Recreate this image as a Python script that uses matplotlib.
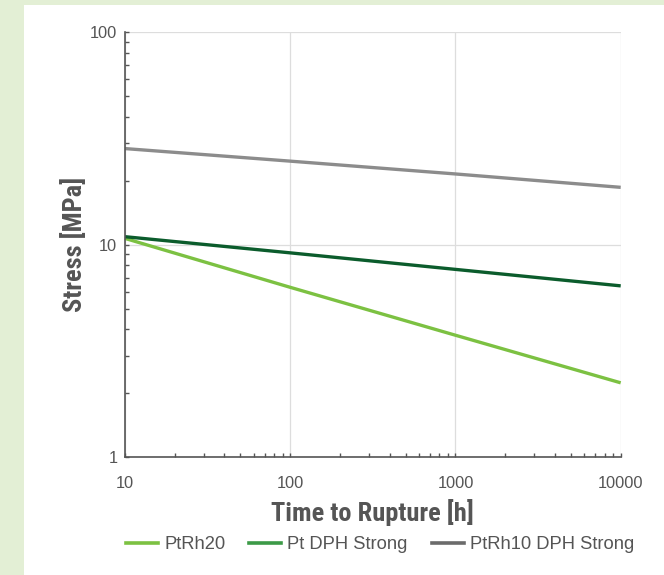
import matplotlib
matplotlib.use("Agg")
import matplotlib.pyplot as plt
from matplotlib import font_manager
from matplotlib.lines import Line2D
from matplotlib.patches import Rectangle
from matplotlib.ticker import LogLocator, NullFormatter, FixedLocator, FixedFormatter

# ---- data ----
time_h = [10, 100, 1000, 10000]
series_names = ["PtRh20", "Pt DPH Strong", "PtRh10 DPH Strong"]
ptrh20 = [10.7, 6.3, 3.75, 2.24]
pt_dph = [10.9, 9.15, 7.65, 6.4]
ptrh10_dph = [28.3, 24.7, 21.5, 18.6]
x_ticks = [10, 100, 1000, 10000]
x_tick_labels = ["10", "100", "1000", "10000"]
y_ticks = [1, 10, 100]
y_tick_labels = ["1", "10", "100"]

# ---- fonts ----
names = {f.name for f in font_manager.fontManager.ttflist}
reg_font = "Liberation Sans" if "Liberation Sans" in names else "DejaVu Sans"
bold_font = reg_font
for cand in ["Liberation Sans Narrow", "Roboto Condensed", "Open Sans Condensed", "Roboto"]:
    if cand in names:
        bold_font = cand
        break

TXT = "#555555"
line_colors = ["#7cc142", "#0b5c2c", "#8c8c8c"]
legend_colors = ["#7cc142", "#3c9a47", "#6b6b6b"]

fig = plt.figure(figsize=(6.64, 5.75), dpi=100)
fig.patch.set_facecolor("#e3efd5")
fig.patches.append(Rectangle((24 / 664, 0), 1 - 24 / 664, 1 - 5 / 575,
                             transform=fig.transFigure, facecolor="white",
                             edgecolor="none", zorder=-5))

ax = fig.add_axes([125 / 664, (575 - 457.3) / 575, (620.7 - 125) / 664, (457.3 - 32) / 575])
ax.set_zorder(2)
ax.set_facecolor("white")
ax.set_xscale("log")
ax.set_yscale("log")
ax.set_xlim(10, 10000)
ax.set_ylim(1, 100)

for vals, c in zip([ptrh20, pt_dph, ptrh10_dph], line_colors):
    ax.plot(time_h, vals, color=c, lw=2.4, solid_capstyle="butt", zorder=3, clip_on=False)

ax.grid(True, which="major", color="#dddddd", lw=0.9, zorder=1)
ax.set_axisbelow(True)
for s in ["top", "right"]:
    ax.spines[s].set_visible(False)
for s in ["left", "bottom"]:
    ax.spines[s].set_color(TXT)
    ax.spines[s].set_linewidth(1.2)
    ax.spines[s].set_zorder(4)

ax.xaxis.set_major_locator(FixedLocator(x_ticks))
ax.xaxis.set_major_formatter(FixedFormatter(x_tick_labels))
ax.yaxis.set_major_locator(FixedLocator(y_ticks))
ax.yaxis.set_major_formatter(FixedFormatter(y_tick_labels))
ax.xaxis.set_minor_locator(LogLocator(base=10, subs=range(2, 10)))
ax.yaxis.set_minor_locator(LogLocator(base=10, subs=range(2, 10)))
ax.xaxis.set_minor_formatter(NullFormatter())
ax.yaxis.set_minor_formatter(NullFormatter())

ax.tick_params(which="both", direction="in", color=TXT, width=1.0, length=3)
ax.tick_params(axis="x", which="major", pad=13.5, labelsize=11.8, labelcolor=TXT)
ax.tick_params(axis="y", which="major", pad=5.5, labelsize=11.8, labelcolor=TXT)
for lab in ax.get_xticklabels() + ax.get_yticklabels():
    lab.set_fontfamily(reg_font)

ax.set_xlabel("Time to Rupture [h]", fontfamily=bold_font, fontweight="bold",
              fontsize=19, color=TXT, va="center")
ax.xaxis.set_label_coords(0.5, (457.3 - 513) / 425.3)
ax.set_ylabel("Stress [MPa]", fontfamily=bold_font, fontweight="bold",
              fontsize=19, color=TXT, va="center")
ax.yaxis.set_label_coords((74 - 125) / 495.7, 0.5)

handles = [Line2D([], [], color=c, lw=2.6) for c in legend_colors]
leg = fig.legend(handles, series_names, loc="center", ncol=3,
                 bbox_to_anchor=(380 / 664, 1 - 544.5 / 575), frameon=False,
                 prop={"family": reg_font, "size": 13.2},
                 handlelength=1.76, handletextpad=0.32, columnspacing=1.3)
for t in leg.get_texts():
    t.set_color(TXT)

fig.savefig("out.png", dpi=100, facecolor=fig.get_facecolor())
